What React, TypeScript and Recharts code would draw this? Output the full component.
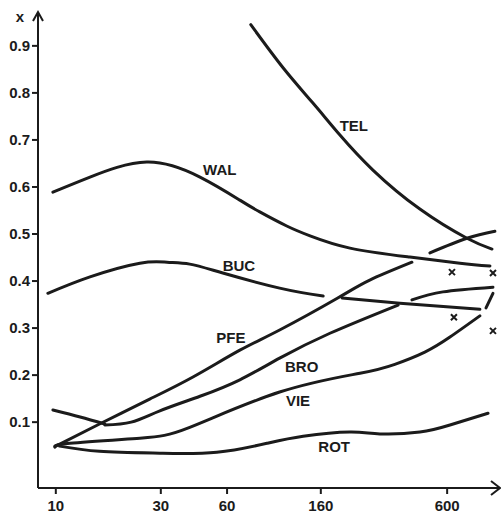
import { ComposedChart, Line, Scatter, XAxis, YAxis, ReferenceDot } from 'recharts'

type Pt = { x: number; y: number }
const pts = (rows: number[][]): Pt[] => rows.map(([x, y]) => ({ x, y }))

// axis ranges (log x axis)
const X_MIN = 8.3
const X_MAX = 1043
const Y_MIN = -0.04
const Y_MAX = 0.972

const xTicks = [10, 30, 60, 160, 600]
const yTicks = [0.1, 0.2, 0.3, 0.4, 0.5, 0.6, 0.7, 0.8, 0.9]

const tel = pts([[76.9, 0.945], [108, 0.853], [147, 0.779], [195, 0.711], [276, 0.636], [451, 0.553], [738, 0.491], [959, 0.468]])
const wal = pts([[9.7, 0.589], [14.3, 0.621], [25.9, 0.653], [45.2, 0.621], [68.6, 0.572], [84.5, 0.547], [112, 0.517], [143, 0.496], [217, 0.47], [406, 0.451], [686, 0.438], [939, 0.432]])
const buc = pts([[9.2, 0.374], [14.3, 0.409], [24.1, 0.438], [32, 0.44], [40.6, 0.436], [57.4, 0.417], [104, 0.385], [164, 0.368]])
const bucTail = pts([[200, 0.364], [366, 0.353], [845, 0.34]])
const pfe = pts([[10, 0.049], [15.8, 0.096], [26.7, 0.149], [42, 0.196], [68.6, 0.253], [104, 0.296], [191, 0.364], [267, 0.402], [415, 0.44]])
const pfeTail = pts([[501, 0.46], [738, 0.491], [989, 0.506]])
const broHead = pts([[9.7, 0.126], [12.9, 0.111], [16.7, 0.096]])
const bro = pts([[16.7, 0.094], [22, 0.1], [29.7, 0.124], [45.2, 0.155], [68.6, 0.19], [104, 0.236], [176, 0.289], [359, 0.349]])
const broTail = pts([[415, 0.36], [574, 0.377], [969, 0.387]])
const stroke = pts([[901, 0.343], [969, 0.374]])
const vie = pts([[9.9, 0.047], [11.6, 0.055], [24.1, 0.066], [40.6, 0.089], [104, 0.164], [241, 0.204], [347, 0.223], [475, 0.249], [618, 0.281], [845, 0.326]])
const rot = pts([[10.4, 0.049], [15.8, 0.038], [29.7, 0.034], [53.9, 0.036], [91, 0.055], [133, 0.07], [217, 0.079], [297, 0.075], [451, 0.079], [618, 0.094], [920, 0.119]])

const marks = pts([[631, 0.419], [969, 0.417], [644, 0.323], [969, 0.294]])

const labelNames = ['TEL', 'WAL', 'BUC', 'PFE', 'BRO', 'VIE', 'ROT']
const labelX = [226, 55.6, 67.9, 62.4, 131, 126, 184]
const labelY = [0.73, 0.638, 0.432, 0.279, 0.219, 0.145, 0.049]
const labels = labelNames.map((name, i) => ({ name, x: labelX[i], y: labelY[i] }))

const INK = '#1b1b1b'
const FONT = '"Liberation Sans", Arial, sans-serif'

const curves = [tel, wal, buc, bucTail, pfe, pfeTail, broHead, bro, broTail, stroke, vie, rot]

export default function App() {
  return (
    <div style={{ position: 'absolute', left: 0, top: 0, background: '#fff', fontFamily: FONT }}>
      <ComposedChart width={501} height={514} margin={{ top: 12, right: 1, bottom: 0, left: 0 }}>
        <XAxis
          dataKey="x"
          type="number"
          scale="log"
          domain={[X_MIN, X_MAX]}
          allowDataOverflow
          ticks={xTicks}
          height={26}
          tickSize={6}
          tickMargin={6}
          axisLine={{ stroke: INK, strokeWidth: 2 }}
          tickLine={{ stroke: INK, strokeWidth: 2 }}
          tick={{ fill: INK, fontSize: 15, fontWeight: 'bold', fontFamily: FONT }}
        />
        <YAxis
          type="number"
          domain={[Y_MIN, Y_MAX]}
          allowDataOverflow
          ticks={yTicks}
          width={38}
          tickSize={6}
          tickFormatter={(v: number) => v.toFixed(1)}
          axisLine={{ stroke: INK, strokeWidth: 2 }}
          tickLine={{ stroke: INK, strokeWidth: 2 }}
          tick={{ fill: INK, fontSize: 15, fontWeight: 'bold', fontFamily: FONT }}
        />
        {curves.map((d, i) => (
          <Line
            key={i}
            data={d}
            dataKey="y"
            type="natural"
            stroke={INK}
            strokeWidth={3}
            dot={false}
            strokeLinecap="round"
            isAnimationActive={false}
          />
        ))}
        <Scatter
          data={marks}
          dataKey="y"
          isAnimationActive={false}
          shape={(p: any) => (
            <path
              d={`M${p.cx - 3},${p.cy - 3}L${p.cx + 3},${p.cy + 3}M${p.cx + 3},${p.cy - 3}L${p.cx - 3},${p.cy + 3}`}
              stroke={INK}
              strokeWidth={2}
            />
          )}
        />
        <Scatter
          data={labels}
          dataKey="y"
          isAnimationActive={false}
          shape={(p: any) => (
            <text
              x={p.cx}
              y={p.cy}
              textAnchor="middle"
              dominantBaseline="central"
              fill={INK}
              fontSize={15}
              fontWeight="bold"
              fontFamily={FONT}
            >
              {p.payload.name}
            </text>
          )}
        />
        {/* arrow heads and the y-axis name */}
        <ReferenceDot
          x={X_MAX}
          y={Y_MIN}
          r={0}
          ifOverflow="visible"
          shape={(p: any) => (
            <path
              d={`M${p.cx - 9},${p.cy - 7}L${p.cx},${p.cy}L${p.cx - 9},${p.cy + 7}`}
              fill="none"
              stroke={INK}
              strokeWidth={2}
            />
          )}
        />
        <ReferenceDot
          x={X_MIN}
          y={Y_MAX}
          r={0}
          ifOverflow="visible"
          shape={(p: any) => (
            <g>
              <path
                d={`M${p.cx - 5},${p.cy + 9}L${p.cx},${p.cy}L${p.cx + 5},${p.cy + 9}`}
                fill="none"
                stroke={INK}
                strokeWidth={2}
              />
              <text x={p.cx - 18} y={p.cy + 10} textAnchor="middle" fill={INK} fontSize={15} fontWeight="bold" fontFamily={FONT}>
                x
              </text>
            </g>
          )}
        />
      </ComposedChart>
    </div>
  )
}
